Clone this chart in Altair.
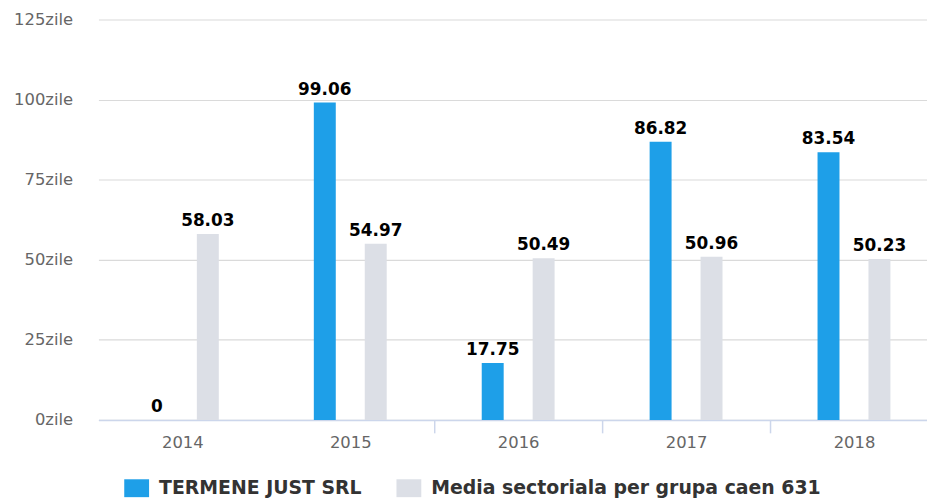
import altair as alt
import pandas as pd

years = ["2014", "2015", "2016", "2017", "2018"]
series_names = ["TERMENE JUST SRL", "Media sectoriala per grupa caen 631"]
company_values = [0, 99.06, 17.75, 86.82, 83.54]
sector_values = [58.03, 54.97, 50.49, 50.96, 50.23]
y_ticks = [0, 25, 50, 75, 100, 125]
colors = ["#1e9fe8", "#dcdfe6"]

rows = []
for i, y in enumerate(years):
    rows.append({"year": y, "series": series_names[0], "value": company_values[i]})
    rows.append({"year": y, "series": series_names[1], "value": sector_values[i]})
df = pd.DataFrame(rows)
df["label"] = df["value"].map(lambda v: "{:g}".format(v))

FONT = "DejaVu Sans"

x = alt.X("year:N", sort=years, title=None,
          scale=alt.Scale(paddingInner=0, paddingOuter=0, range=[0, 845]),
          axis=alt.Axis(labelAngle=0, labelFont=FONT, labelFontSize=16.5,
                        labelColor="#666666", labelPadding=2,
                        domainColor="#ccd6eb", domainWidth=1.5,
                        tickColor="#ccd6eb", tickSize=13, tickWidth=1.5,
                        tickBand="extent", grid=False,
                        tickOpacity={"condition": {"test": "datum.value == '2014' || datum.extra", "value": 0}, "value": 1}))
xo = alt.XOffset("series:N", sort=series_names,
                 scale=alt.Scale(paddingInner=0.569, paddingOuter=0.933))
y = alt.Y("value:Q", title=None,
          scale=alt.Scale(domain=[0, 125], nice=False),
          axis=alt.Axis(values=y_ticks, labelExpr="datum.value + 'zile'",
                        labelFont=FONT, labelFontSize=16.5, labelColor="#666666",
                        labelPadding=26, ticks=False, domain=False,
                        gridColor="#dadada", gridWidth=1.2))

bars = alt.Chart(df).mark_bar().encode(
    x=x, xOffset=xo, y=y,
    color=alt.Color("series:N", sort=series_names,
                    scale=alt.Scale(domain=series_names, range=colors),
                    legend=alt.Legend(title=None, orient="none", direction="horizontal",
                                      legendX=26, legendY=459,
                                      labelFont=FONT, labelFontWeight="bold",
                                      labelFontSize=19, labelColor="#333333",
                                      labelLimit=600,
                                      symbolType="M-1,-0.72H1V0.72H-1Z", symbolSize=625,
                                      symbolStrokeWidth=0, symbolOpacity=1,
                                      labelOffset=10, columnPadding=34)),
)

labels = alt.Chart(df).mark_text(font=FONT, fontWeight="bold", fontSize=17,
                                 color="#000000", baseline="alphabetic", dy=-8).encode(
    x=x, xOffset=xo, y=y, text="label:N")

chart = alt.layer(bars, labels).properties(
    width=834, height=403,
    autosize=alt.AutoSizeParams(type="none"),
    padding={"left": 91, "top": 10, "right": 0, "bottom": 78},
).configure_view(stroke=None)

chart.save("out.html", embed_options={"renderer": "svg", "actions": False})
